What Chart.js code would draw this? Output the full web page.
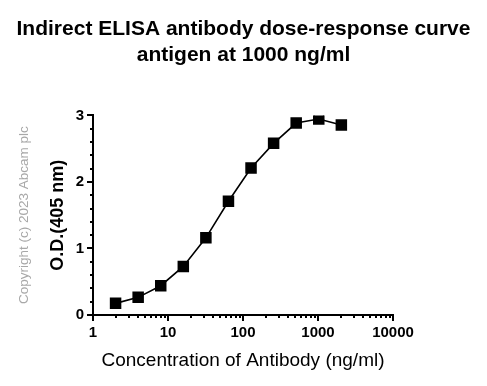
<!DOCTYPE html>
<html>
<head>
<meta charset="utf-8">
<script src="https://cdn.jsdelivr.net/npm/chart.js@4/dist/chart.umd.min.js"></script>
<style>
  html, body { margin: 0; padding: 0; background: #fff; }
  #wrap { width: 487px; height: 386px; position: relative; }
</style>
</head>
<body>
<div id="wrap"><canvas id="c" width="487" height="386"></canvas></div>
<script>
const titleLines = ["Indirect ELISA antibody dose-response curve", "antigen at 1000 ng/ml"];
const xTitle = "Concentration of Antibody (ng/ml)";
const yTitle = "O.D.(405 nm)";
const copyrightText = "Copyright (c) 2023 Abcam plc";
const concentrations = [2, 4, 8, 16, 32, 64, 128, 256, 512, 1024, 2048];
const odValues = [0.175, 0.265, 0.44, 0.73, 1.16, 1.71, 2.21, 2.58, 2.885, 2.945, 2.855];
const xMin = 1, xMax = 10000;
const yMin = 0, yMax = 3, yStep = 1, yMinorStep = 0.2;

const FONT = "'Liberation Sans', Arial, sans-serif";

const tickPlugin = {
  id: 'axisTicks',
  afterDraw(chart) {
    const ctx = chart.ctx;
    const xs = chart.scales.x, ys = chart.scales.y;
    const area = chart.chartArea;
    ctx.save();
    ctx.strokeStyle = '#000';
    ctx.lineWidth = 2;
    ctx.lineCap = 'butt';
    for (let d = 1; d < xMax; d *= 10) {
      for (let m = 1; m <= 9; m++) {
        const v = d * m;
        const px = Math.round(xs.getPixelForValue(v));
        const len = m === 1 ? 6 : 3;
        ctx.beginPath();
        ctx.moveTo(px, area.bottom);
        ctx.lineTo(px, area.bottom + len);
        ctx.stroke();
      }
    }
    {
      const px = Math.round(xs.getPixelForValue(xMax));
      ctx.beginPath();
      ctx.moveTo(px, area.bottom);
      ctx.lineTo(px, area.bottom + 6);
      ctx.stroke();
    }
    const n = Math.round((yMax - yMin) / yMinorStep);
    for (let i = 0; i <= n; i++) {
      const v = yMin + i * yMinorStep;
      const py = Math.round(ys.getPixelForValue(v));
      const major = Math.abs(v / yStep - Math.round(v / yStep)) < 1e-6;
      const len = major ? 6 : 3;
      ctx.beginPath();
      ctx.moveTo(area.left, py);
      ctx.lineTo(area.left - len, py);
      ctx.stroke();
    }
    ctx.translate(24, (area.top + area.bottom) / 2);
    ctx.rotate(-Math.PI / 2);
    ctx.fillStyle = '#a8a8a8';
    ctx.font = "13.5px " + FONT;
    ctx.textAlign = 'center';
    ctx.textBaseline = 'middle';
    ctx.fillText(copyrightText, 0, 0);
    ctx.restore();
  }
};

new Chart(document.getElementById('c'), {
  type: 'line',
  data: {
    datasets: [{
      data: concentrations.map((x, i) => ({ x: x, y: odValues[i] })),
      borderColor: '#000',
      backgroundColor: '#000',
      borderWidth: 1.6,
      pointStyle: 'rect',
      pointRadius: 7,
      pointHoverRadius: 7,
      tension: 0
    }]
  },
  options: {
    responsive: false,
    animation: false,
    events: [],
    layout: { padding: 0 },
    plugins: {
      legend: { display: false },
      tooltip: { enabled: false },
      title: {
        display: true,
        text: titleLines,
        color: '#000',
        font: { family: FONT, size: 21, weight: 'bold', lineHeight: 1.2 },
        padding: { top: 17, bottom: 48 }
      }
    },
    scales: {
      x: {
        type: 'logarithmic',
        min: xMin,
        max: xMax,
        grid: { display: false, drawTicks: true, tickLength: 6 },
        border: { display: true, color: '#000', width: 2 },
        ticks: {
          autoSkip: false,
          maxRotation: 0,
          padding: 3,
          color: '#000',
          font: { family: FONT, size: 15, weight: 'bold' },
          callback: function (v) {
            const l = Math.log10(v);
            return Math.abs(l - Math.round(l)) < 1e-9 ? String(Math.round(v)) : '';
          }
        },
        title: {
          display: true,
          text: xTitle,
          color: '#000',
          font: { family: FONT, size: 19 },
          padding: { top: 0, bottom: 14 }
        },
        afterFit: s => { s.height = 71; }
      },
      y: {
        min: yMin,
        max: yMax,
        grid: { display: false, drawTicks: true, tickLength: 6 },
        border: { display: true, color: '#000', width: 2 },
        ticks: {
          stepSize: yStep,
          padding: 3,
          color: '#000',
          font: { family: FONT, size: 15, weight: 'bold' }
        },
        title: {
          display: true,
          text: yTitle,
          color: '#000',
          font: { family: FONT, size: 18, weight: 'bold' },
          padding: { top: 47, bottom: 0 }
        },
        afterFit: s => { s.width = 93; }
      },
      yRight: {
        position: 'right',
        display: true,
        grid: { display: false, drawTicks: false },
        border: { display: false },
        ticks: { display: false },
        afterFit: s => { s.width = 94; }
      }
    }
  },
  plugins: [tickPlugin]
});
</script>
</body>
</html>
